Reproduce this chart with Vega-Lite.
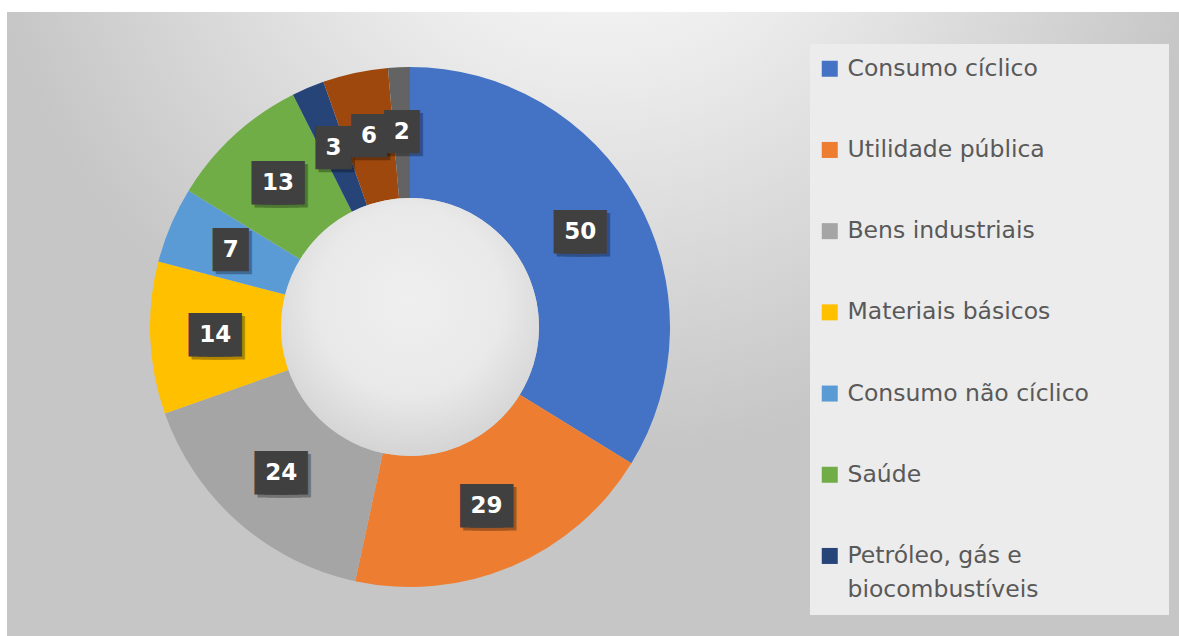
{
  "$schema": "https://vega.github.io/schema/vega-lite/v6.json",
  "width": 1172,
  "height": 624,
  "autosize": "none",
  "padding": {"left": 7, "top": 12, "right": 0, "bottom": 0},
  "background": "#ffffff",
  "config": {
    "view": {"stroke": null},
    "style": {"guide-label": {"lineHeight": 34}}
  },
  "data": {
    "values": [
      {"setor": "Consumo cíclico", "v": 50},
      {"setor": "Utilidade pública", "v": 29},
      {"setor": "Bens industriais", "v": 24},
      {"setor": "Materiais básicos", "v": 14},
      {"setor": "Consumo não cíclico", "v": 7},
      {"setor": "Saúde", "v": 13},
      {"setor": "Petróleo, gás e biocombustíveis", "v": 3},
      {"setor": "Tecnologia da informação", "v": 6},
      {"setor": "Comunicações", "v": 2}
    ]
  },
  "transform": [{"window": [{"op": "row_number", "as": "ordem"}]}],
  "layer": [
    {
      "data": {"values": [{}]},
      "mark": {
        "type": "rect",
        "fill": {
          "gradient": "radial",
          "x1": 0.506, "y1": 0.08, "r1": 0,
          "x2": 0.506, "y2": 0.08, "r2": 0.53,
          "stops": [
            {"offset": 0, "color": "#ffffff"},
            {"offset": 0.4, "color": "#ebebeb"},
            {"offset": 1, "color": "#c6c6c6"}
          ]
        }
      },
      "encoding": {}
    },
    {
      "mark": {"type": "arc", "outerRadius": 260, "innerRadius": 129, "x": 403, "y": 315},
      "encoding": {
        "theta": {"field": "v", "type": "quantitative", "stack": true},
        "order": {"field": "ordem", "type": "quantitative"},
        "color": {
          "field": "setor",
          "type": "nominal",
          "scale": {
            "domain": ["Consumo cíclico", "Utilidade pública", "Bens industriais", "Materiais básicos", "Consumo não cíclico", "Saúde", "Petróleo, gás e biocombustíveis", "Tecnologia da informação", "Comunicações"],
            "range": ["#4472C4", "#ED7D31", "#A5A5A5", "#FFC000", "#5B9BD5", "#70AD47", "#264478", "#9E480E", "#636363"]
          },
          "legend": {
            "orient": "none",
            "legendX": 803,
            "legendY": 32,
            "values": ["Consumo cíclico", "Utilidade pública", "Bens industriais", "Materiais básicos", "Consumo não cíclico", "Saúde", "Petróleo, gás e biocombustíveis"],
            "title": "\u2800\u2800\u2800",
            "titleFont": "DejaVu Sans",
            "titleFontSize": 21,
            "titleOrient": "right",
            "titlePadding": 17,
            "fillColor": "#ececec",
            "padding": 13,
            "symbolType": "square",
            "symbolSize": 256,
            "symbolStrokeWidth": 0,
            "symbolOffset": -5,
            "labelFont": "DejaVu Sans",
            "labelFontSize": 23.5,
            "labelColor": "#595959",
            "labelOffset": 6,
            "rowPadding": 56.2,
            "labelLimit": 450,
            "labelExpr": "datum.label == 'Petróleo, gás e biocombustíveis' ? ['Petróleo, gás e', 'biocombustíveis'] : datum.label"
          }
        }
      }
    },
    {
      "data": {"values": [{}]},
      "mark": {
        "type": "arc",
        "theta": 0,
        "theta2": 6.2832,
        "outerRadius": 129,
        "innerRadius": 0,
        "x": 403,
        "y": 315,
        "fill": {
          "gradient": "radial",
          "x1": 0.5, "y1": 0.4, "r1": 0,
          "x2": 0.5, "y2": 0.4, "r2": 0.6,
          "stops": [
            {"offset": 0, "color": "#efefef"},
            {"offset": 0.6, "color": "#e9e9e9"},
            {"offset": 1, "color": "#d4d4d4"}
          ]
        }
      },
      "encoding": {}
    },
    {
      "mark": {"type": "text", "radius": 195, "x": 403, "y": 315, "dx": 3, "dy": 3, "font": "DejaVu Sans Mono", "align": "center", "baseline": "middle", "fill": "#000000", "stroke": "#000000", "strokeJoin": "miter", "opacity": 0.3},
      "encoding": {
        "theta": {"field": "v", "type": "quantitative", "stack": true},
        "order": {"field": "ordem", "type": "quantitative"},
        "detail": {"field": "setor", "type": "nominal"},
        "text": {"condition": {"test": "datum.v >= 10", "value": "███"}, "value": "█"},
        "size": {"condition": {"test": "datum.v >= 10", "value": 15.6}, "value": 12.5},
        "strokeWidth": {"condition": {"test": "datum.v >= 10", "value": 24.9}, "value": 28.5}
      }
    },
    {
      "mark": {"type": "text", "radius": 195, "x": 403, "y": 315, "font": "DejaVu Sans Mono", "align": "center", "baseline": "middle", "fill": "#404040", "stroke": "#404040", "strokeJoin": "miter"},
      "encoding": {
        "theta": {"field": "v", "type": "quantitative", "stack": true},
        "order": {"field": "ordem", "type": "quantitative"},
        "detail": {"field": "setor", "type": "nominal"},
        "text": {"condition": {"test": "datum.v >= 10", "value": "███"}, "value": "█"},
        "size": {"condition": {"test": "datum.v >= 10", "value": 15.6}, "value": 12.5},
        "strokeWidth": {"condition": {"test": "datum.v >= 10", "value": 24.9}, "value": 28.5}
      }
    },
    {
      "mark": {"type": "text", "radius": 195, "x": 403, "y": 315, "font": "DejaVu Sans", "fontWeight": "bold", "fontSize": 23, "align": "center", "baseline": "middle", "fill": "#ffffff"},
      "encoding": {
        "theta": {"field": "v", "type": "quantitative", "stack": true},
        "order": {"field": "ordem", "type": "quantitative"},
        "detail": {"field": "setor", "type": "nominal"},
        "text": {"field": "v", "type": "quantitative"}
      }
    }
  ]
}
